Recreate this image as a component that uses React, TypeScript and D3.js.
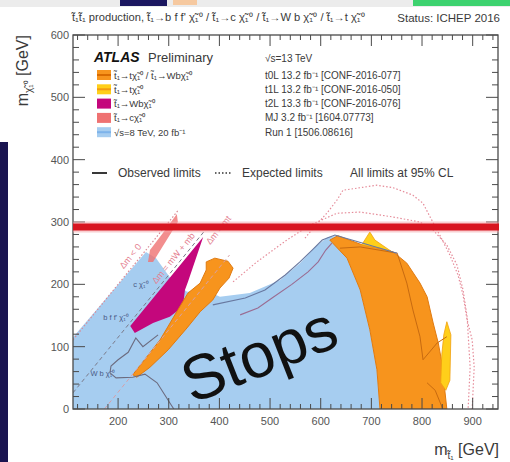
import React from "react";
import * as d3 from "d3";

type Pt = [number, number];

const W = 510;
const H = 462;
const font = "'Liberation Sans', Arial, Helvetica, sans-serif";

// axis ticks (GeV)
const xTickValues = [200, 300, 400, 500, 600, 700, 800, 900];
const yTickValues = [0, 100, 200, 300, 400, 500, 600];

// excluded regions, [m_stop, m_neutralino] in GeV
const run1Region: Pt[] = [[111, 0], [111, 115], [255, 252], [275, 242], [306, 207], [336, 188], [372, 191], [401, 180], [460, 186], [520, 207], [559, 234], [589, 260], [614, 276], [634, 278], [652, 242], [678, 191], [697, 127], [711, 63], [717, 0]];
const tLBand: Pt[] = [[229, 55], [283, 111], [318, 159], [338, 186], [362, 202], [374, 223], [374, 236], [391, 242], [417, 237], [427, 226], [419, 210], [401, 194], [387, 175], [362, 156], [336, 130], [299, 95], [263, 67], [237, 51]];
const tLMain: Pt[] = [[618, 271], [634, 278], [683, 263], [717, 258], [743, 252], [770, 234], [796, 202], [810, 180], [822, 138], [832, 106], [841, 67], [845, 30], [849, 0], [717, 0], [711, 63], [697, 127], [678, 191], [652, 242]];
const t1LSpike: Pt[] = [[680, 262], [697, 284], [707, 271], [741, 252], [717, 258], [683, 263]];
const t1LSliver: Pt[] = [[843, 119], [849, 140], [857, 119], [855, 46], [847, 30], [837, 42], [839, 87]];
const t2LRegion: Pt[] = [[368, 276], [224, 133], [233, 122], [269, 138], [302, 148], [328, 164], [332, 191], [338, 204]];
const mjRegion: Pt[] = [[259, 236], [269, 236], [318, 300], [316, 313], [293, 287], [263, 255]];

// observed contours
const tLInnerA: Pt[] = [[638, 258], [678, 260], [751, 250], [770, 202], [782, 159], [796, 116], [802, 79], [830, 106], [849, 116]];
const tLInnerB: Pt[] = [[810, 42], [826, 30], [841, 0]];
const obsA: Pt[] = [[387, 167], [451, 178], [490, 191], [530, 215], [559, 236], [583, 255], [603, 271], [628, 279], [687, 265], [751, 250]];
const obsB: Pt[] = [[441, 151], [476, 162], [504, 178], [543, 200], [575, 220], [595, 236], [610, 255], [622, 266]];
const obsC: Pt[] = [[279, 119], [249, 100], [235, 114], [220, 91], [200, 79], [186, 69], [184, 58], [196, 50], [229, 51], [253, 56], [277, 42], [302, 10], [310, 0]];

// expected contours
const expA: Pt[] = [[569, 274], [585, 290], [612, 314], [632, 335], [644, 351], [678, 355], [711, 359], [743, 355], [782, 343], [802, 330], [816, 308], [835, 279], [855, 247], [871, 215], [881, 183], [889, 143], [899, 111], [903, 67], [899, 0]];
const expB: Pt[] = [[427, 204], [474, 236], [533, 271], [579, 295], [632, 314], [678, 316], [743, 308], [796, 300], [822, 287], [849, 263], [869, 231], [881, 191], [889, 148], [895, 67], [891, 0]];

// kinematic boundaries
const diagZero: Pt[] = [[111, 111], [320, 320]];
const diagWb: Pt[] = [[111, 26], [370, 285]];
const diagTop: Pt[] = [[173, 0], [420, 247]];

// hand-drawn limit
const overlayLimit = 292;

const legendProcess = ["t̃₁→tχ̃₁⁰ / t̃₁→Wbχ̃₁⁰", "t̃₁→tχ̃₁⁰", "t̃₁→Wbχ̃₁⁰", "t̃₁→cχ̃₁⁰", "√s=8 TeV, 20 fb⁻¹"];
const legendAnalysis = ["t0L 13.2 fb⁻¹ [CONF-2016-077]", "t1L 13.2 fb⁻¹ [CONF-2016-050]", "t2L 13.3 fb⁻¹ [CONF-2016-076]", "MJ  3.2 fb⁻¹ [1604.07773]", "Run 1 [1506.08616]"];
const swatchFill = ["#f7941d", "#ffcf1a", "#c4077c", "#ef7272", "#a6cdf0"];
const swatchLine = ["#d86a00", "#f39a12", "#c4077c", "#ef7272", "#7db3ea"];

const x = d3.scaleLinear().domain([111, 950]).range([73, 498]);
const y = d3.scaleLinear().domain([0, 600]).range([409, 35]);

const line = d3.line<Pt>().x((d) => x(d[0])).y((d) => y(d[1]));
const area = d3.line<Pt>().x((d) => x(d[0])).y((d) => y(d[1])).curve(d3.curveLinearClosed);

const App = () => {
  const [x0, x1] = x.range();
  const [y0, y1] = y.range();
  const xMinor = d3.range(120, 951, 20).filter((v) => v % 100 !== 0);
  const yMinor = d3.range(20, 600, 20).filter((v) => v % 100 !== 0);
  const txt = "#3a3a3a";

  return (
    <svg width={W} height={H} style={{ position: "absolute", left: 0, top: 0, background: "#fff" }} fontFamily={font}>
      <defs>
        <clipPath id="plot">
          <rect x={x0} y={y1} width={x1 - x0} height={y0 - y1} />
        </clipPath>
      </defs>

      {/* bits of the slide around the photo */}
      <rect x={0} y={0} width={W} height={7} fill="#ececec" />
      <rect x={120} y={0} width={47} height={6} fill="#1b1760" />
      <rect x={173} y={0} width={24} height={5} fill="#f6c9a0" />
      <rect x={413} y={0} width={97} height={6} fill="#3dd26f" />
      <rect x={0} y={142} width={8} height={H - 142} fill="#1a1450" />

      {/* title */}
      <text x={72} y={21} fontSize={10} fill={txt} textLength={293} lengthAdjust="spacingAndGlyphs">
        t̃₁t̃₁ production, t̃₁→b f f' χ̃₁⁰ / t̃₁→c χ̃₁⁰ / t̃₁→W b χ̃₁⁰ / t̃₁→t χ̃₁⁰
      </text>
      <text x={500} y={22} fontSize={11.5} fill={txt} textAnchor="end">Status: ICHEP 2016</text>

      <g clipPath="url(#plot)">
        <path d={area(run1Region) ?? ""} fill="#a6cdf0" />
        <path d={area(mjRegion) ?? ""} fill="#ef7272" opacity={0.8} />
        <path d={area(t2LRegion) ?? ""} fill="#c4077c" />
        <path d={area(tLBand) ?? ""} fill="#f7941d" stroke="#e07a10" strokeWidth={1} />
        <path d={area(tLMain) ?? ""} fill="#f7941d" stroke="#e07a10" strokeWidth={1} />
        <path d={area(t1LSpike) ?? ""} fill="#ffcf1a" stroke="#f0a010" strokeWidth={0.8} />
        <path d={area(t1LSliver) ?? ""} fill="#ffcf1a" stroke="#f0a010" strokeWidth={0.8} />

        <path d={line(diagZero) ?? ""} fill="none" stroke="#d98a96" strokeWidth={1.2} strokeDasharray="1.5,2" />
        <path d={line(diagWb) ?? ""} fill="none" stroke="#7a7a8a" strokeWidth={1} strokeDasharray="4,3" />
        <path d={line(diagTop) ?? ""} fill="none" stroke="#d7a0a8" strokeWidth={1} strokeDasharray="4,3" />

        <path d={line(tLInnerA) ?? ""} fill="none" stroke="#c76a10" strokeWidth={1} />
        <path d={line(tLInnerB) ?? ""} fill="none" stroke="#c76a10" strokeWidth={1} />
        <path d={line(obsA) ?? ""} fill="none" stroke="#6878a0" strokeWidth={1.1} />
        <path d={line(obsB) ?? ""} fill="none" stroke="#9a6c92" strokeWidth={1.1} />
        <path d={line(obsC) ?? ""} fill="none" stroke="#6c6c80" strokeWidth={1.1} />
        <path d={line(expA) ?? ""} fill="none" stroke="#e58a98" strokeWidth={1.2} strokeDasharray="1.5,2" />
        <path d={line(expB) ?? ""} fill="none" stroke="#e58a98" strokeWidth={1.2} strokeDasharray="1.5,2" />

        {/* diagonal labels */}
        <g fill="#e48090" fontSize={9}>
          <text transform={`translate(${x(229)},${y(242)}) rotate(-51)`} textAnchor="middle">Δm &lt; 0</text>
          <text transform={`translate(${x(314)},${y(239)}) rotate(-51)`} textAnchor="middle">Δm = mW + mb</text>
          <text transform={`translate(${x(403)},${y(284)}) rotate(-51)`} textAnchor="middle">Δm = mt</text>
        </g>
        <g fill="#4a5a86" fontSize={7.5}>
          <text x={x(196)} y={y(143)} textAnchor="middle">b f f' χ̃₁⁰</text>
          <text x={x(170)} y={y(53)} textAnchor="middle">W b χ̃₁⁰</text>
          <text x={x(245)} y={y(196)} textAnchor="middle">c χ̃₁⁰</text>
        </g>
      </g>

      {/* frame and ticks */}
      <g stroke="#4a4a4a" strokeWidth={1}>
        {xTickValues.map((v) => (
          <g key={"xt" + v}>
            <line x1={x(v)} x2={x(v)} y1={y0} y2={y0 - 11} />
            <line x1={x(v)} x2={x(v)} y1={y1} y2={y1 + 11} />
          </g>
        ))}
        {xMinor.map((v) => (
          <g key={"xm" + v}>
            <line x1={x(v)} x2={x(v)} y1={y0} y2={y0 - 5} />
            <line x1={x(v)} x2={x(v)} y1={y1} y2={y1 + 5} />
          </g>
        ))}
        {yTickValues.map((v) => (
          <g key={"yt" + v}>
            <line x1={x0} x2={x0 + 12} y1={y(v)} y2={y(v)} />
            <line x1={x1} x2={x1 - 12} y1={y(v)} y2={y(v)} />
          </g>
        ))}
        {yMinor.map((v) => (
          <g key={"ym" + v}>
            <line x1={x0} x2={x0 + 6} y1={y(v)} y2={y(v)} />
            <line x1={x1} x2={x1 - 6} y1={y(v)} y2={y(v)} />
          </g>
        ))}
        <rect x={x0} y={y1} width={x1 - x0} height={y0 - y1} fill="none" strokeWidth={1.3} />
      </g>

      {/* hand-drawn red line */}
      <line x1={x0} x2={x1 + 1} y1={y(overlayLimit)} y2={y(overlayLimit)} stroke="#f4a0a4" strokeWidth={11} opacity={0.5} />
      <line x1={x0} x2={x1 + 1} y1={y(overlayLimit)} y2={y(overlayLimit)} stroke="#d8141f" strokeWidth={7} />

      {/* tick labels */}
      <g fontSize={11} fill="#555">
        {xTickValues.map((v) => (
          <text key={"xl" + v} x={x(v)} y={y0 + 16} textAnchor="middle">{v}</text>
        ))}
        {yTickValues.map((v) => (
          <text key={"yl" + v} x={x0 - 4} y={y(v) + 4} textAnchor="end">{v}</text>
        ))}
      </g>

      {/* axis titles */}
      <text x={499} y={455} fontSize={16} fill={txt} textAnchor="end">
        m<tspan fontSize={10} dy={4}>t̃₁</tspan><tspan dy={-4}> [GeV]</tspan>
      </text>
      <text transform="translate(28,35) rotate(-90)" fontSize={16} fill={txt} textAnchor="end">
        m<tspan fontSize={10} dy={4}>χ̃₁⁰</tspan><tspan dy={-4}> [GeV]</tspan>
      </text>

      {/* legend */}
      <text x={94} y={62} fontSize={14} fill="#111" fontWeight="bold" fontStyle="italic">ATLAS</text>
      <text x={148} y={62} fontSize={13} fill={txt}>Preliminary</text>
      <text x={265} y={62} fontSize={10} fill={txt}>√s=13 TeV</text>
      {legendProcess.map((label, i) => {
        const cy = 75 + i * 14.3;
        return (
          <g key={label}>
            <rect x={97} y={cy - 5} width={14} height={10} fill={swatchFill[i]} />
            <line x1={97} x2={111} y1={cy} y2={cy} stroke={swatchLine[i]} strokeWidth={2} />
            <text x={114} y={cy + 3.5} fontSize={9.5} fill={txt}>{label}</text>
            <text x={265} y={cy + 3.5} fontSize={10} fill={txt}>{legendAnalysis[i]}</text>
          </g>
        );
      })}
      <line x1={92} x2={107} y1={173} y2={173} stroke="#222" strokeWidth={1.8} />
      <text x={118} y={177} fontSize={12} fill={txt}>Observed limits</text>
      <line x1={215} x2={231} y1={173} y2={173} stroke="#333" strokeWidth={1.5} strokeDasharray="1.5,2" />
      <text x={242} y={177} fontSize={12} fill={txt}>Expected limits</text>
      <text x={350} y={177} fontSize={12} fill={txt}>All limits at 95% CL</text>

      {/* annotation */}
      <text transform="translate(192,404) rotate(-21.5)" fontSize={63} fill="#111">Stops</text>
    </svg>
  );
};

export default App;
